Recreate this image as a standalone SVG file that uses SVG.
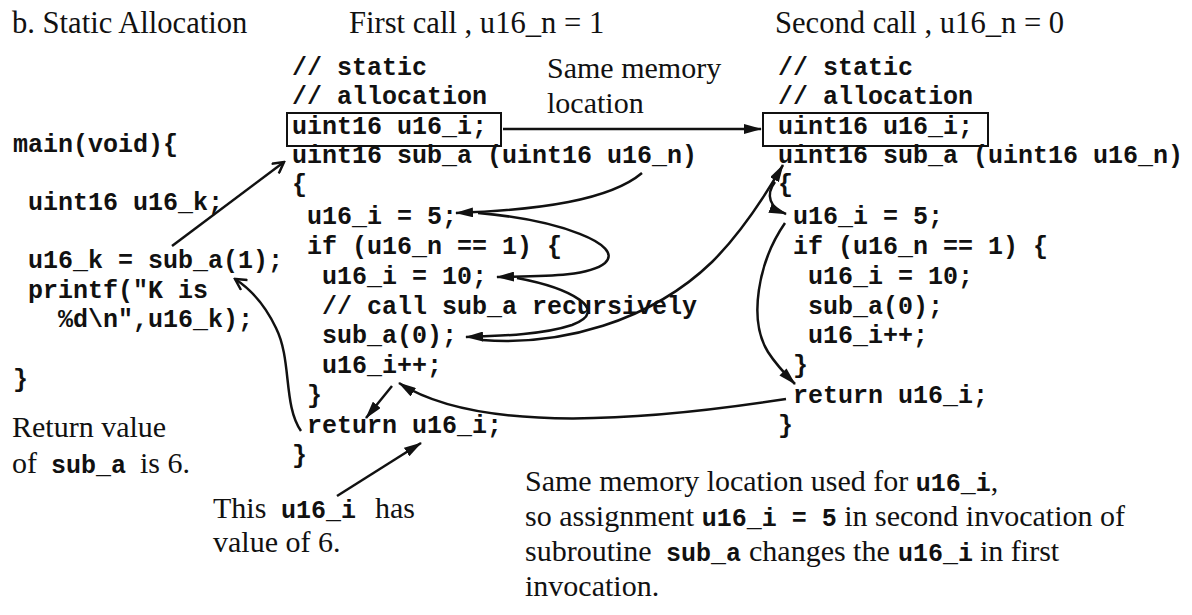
<svg xmlns="http://www.w3.org/2000/svg" width="1192" height="615" viewBox="0 0 1192 615">
  <style>
    .s { font-family: "Liberation Serif", "Times New Roman", serif; font-size: 30px; fill: #111; }
    .h { font-size: 30.6px; }
    .m { font-family: "Liberation Mono", "Courier New", monospace; font-size: 25px; font-weight: bold; fill: #111; }
    .box { fill: none; stroke: #111; stroke-width: 2; }
    .c { fill: none; stroke: #111; stroke-width: 2.5; }
    .fa { marker-end: url(#head); }
    .oa { marker-end: url(#open); }
  </style>
  <defs>
    <marker id="head" markerUnits="userSpaceOnUse" viewBox="0 0 18 10" markerWidth="18" markerHeight="10" refX="17" refY="5" orient="auto">
      <path d="M0,0 L18,5 L0,10 z" fill="#111"/>
    </marker>
    <marker id="open" markerUnits="userSpaceOnUse" viewBox="0 0 14 14" markerWidth="14" markerHeight="14" refX="12" refY="7" orient="auto">
      <path d="M1,1 L12,7 L1,13" fill="none" stroke="#111" stroke-width="2.5"/>
    </marker>
  </defs>
  <rect width="1192" height="615" fill="#fff"/>

  <!-- column headings -->
  <g id="headings">
    <text class="s h" x="12" y="33">b. Static Allocation</text>
    <text class="s h" x="349" y="33">First call , u16_n = 1</text>
    <text class="s h" x="775" y="33">Second call , u16_n = 0</text>
  </g>

  <!-- caller -->
  <g id="main">
    <text class="m" x="13" y="152">main(void){</text>
    <text class="m" x="28" y="210">uint16 u16_k;</text>
    <text class="m" x="28" y="268">u16_k = sub_a(1);</text>
    <text class="m" x="28" y="298">printf("K is</text>
    <text class="m" x="58" y="327">%d\n",u16_k);</text>
    <text class="m" x="13" y="387">}</text>
  </g>

  <g id="return-note">
    <text class="s" x="12" y="437">Return value</text>
    <text class="s" x="12" y="473">of <tspan class="m" x="51">sub_a</tspan><tspan x="140">is 6.</tspan></text>
  </g>

  <!-- first invocation of sub_a -->
  <g id="first-call">
    <text class="m" x="292" y="75">// static</text>
    <text class="m" x="292" y="104">// allocation</text>
    <rect class="box" x="287" y="113" width="214" height="33"/>
    <text class="m" x="292" y="134">uint16 u16_i;</text>
    <text class="m" x="292" y="163">uint16 sub_a (uint16 u16_n)</text>
    <text class="m" x="292" y="192">{</text>
    <text class="m" x="307" y="224">u16_i = 5;</text>
    <text class="m" x="307" y="254">if (u16_n == 1) {</text>
    <text class="m" x="322" y="284">u16_i = 10;</text>
    <text class="m" x="322" y="314">// call sub_a recursively</text>
    <text class="m" x="322" y="343">sub_a(0);</text>
    <text class="m" x="322" y="373">u16_i++;</text>
    <text class="m" x="307" y="403">}</text>
    <text class="m" x="307" y="433">return u16_i;</text>
    <text class="m" x="292" y="463">}</text>
  </g>

  <!-- second invocation of sub_a -->
  <g id="second-call">
    <text class="m" x="778" y="75">// static</text>
    <text class="m" x="778" y="104">// allocation</text>
    <rect class="box" x="763" y="113" width="225" height="33"/>
    <text class="m" x="778" y="134">uint16 u16_i;</text>
    <text class="m" x="778" y="163">uint16 sub_a (uint16 u16_n)</text>
    <text class="m" x="778" y="192">{</text>
    <text class="m" x="793" y="224">u16_i = 5;</text>
    <text class="m" x="793" y="254">if (u16_n == 1) {</text>
    <text class="m" x="808" y="284">u16_i = 10;</text>
    <text class="m" x="808" y="314">sub_a(0);</text>
    <text class="m" x="808" y="343">u16_i++;</text>
    <text class="m" x="793" y="373">}</text>
    <text class="m" x="793" y="403">return u16_i;</text>
    <text class="m" x="778" y="433">}</text>
  </g>

  <g id="memory-label">
    <text class="s" x="547" y="78">Same memory</text>
    <text class="s" x="547" y="113">location</text>
  </g>

  <g id="value-note">
    <text class="s" x="213" y="518">This<tspan class="m" x="281">u16_i</tspan><tspan x="375">has</tspan></text>
    <text class="s" x="213" y="552">value of 6.</text>
  </g>

  <g id="explanation">
    <text class="s" x="525" y="491">Same memory location used for <tspan class="m">u16_i</tspan>,</text>
    <text class="s" x="525" y="526">so assignment <tspan class="m">u16_i = 5</tspan> in second invocation of</text>
    <text class="s" x="525" y="561">subroutine<tspan class="m" x="666">sub_a</tspan><tspan x="749">changes the</tspan><tspan class="m" x="898">u16_i</tspan><tspan x="980">in first</tspan></text>
    <text class="s" x="525" y="596">invocation.</text>
  </g>

  <!-- control flow and memory arrows -->
  <g id="connectors">
    <path class="c oa" d="M172,246 L284,162"/>
    <path class="c oa" d="M301,431 C283,405 292,360 276,328 C265,305 252,290 235,279"/>
    <path class="c fa" d="M503,129 L761,129"/>
    <path class="c fa" d="M642,173 C610,200 540,210 456,213"/>
    <path class="c fa" d="M478,213 C560,220 625,245 605,263 C588,277 540,276 497,277"/>
    <path class="c fa" d="M517,278 C570,288 612,310 572,325 C545,334 505,336 466,337"/>
    <path class="c fa" d="M482,340 C560,346 650,322 712,262 C742,232 765,196 783,165"/>
    <path class="c fa" d="M775,182 C765,195 770,208 786,214"/>
    <path class="c fa" d="M785,223 C758,262 748,320 768,352 C777,366 787,376 795,384"/>
    <path class="c fa" d="M786,399 C650,420 480,435 399,383"/>
    <path class="c fa" d="M392,386 L366,418"/>
    <path class="c fa" d="M337,496 L421,443"/>
  </g>
</svg>
